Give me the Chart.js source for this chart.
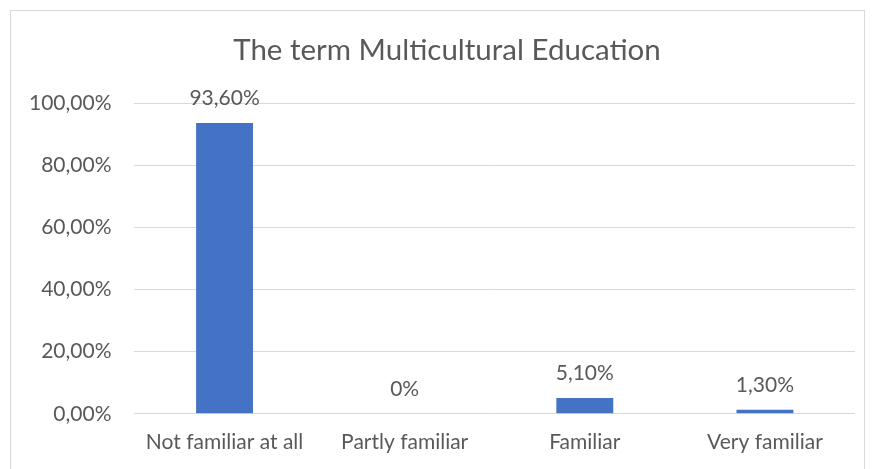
<!DOCTYPE html>
<html>
<head>
<meta charset="utf-8">
<script src="https://cdn.jsdelivr.net/npm/chart.js@4/dist/chart.umd.min.js"></script>
<style>
  body { margin: 0; background: #fff; }
  #frame { position: absolute; left: 10px; top: 10px; width: 855px; height: 480px; border: 1px solid #d9d9d9; box-sizing: border-box; }
  canvas { position: absolute; left: 0; top: 0; }
</style>
</head>
<body>
<div id="frame"></div>
<canvas id="chart" width="873" height="469"></canvas>
<script>
// dados
const categories = ['Not familiar at all', 'Partly familiar', 'Familiar', 'Very familiar'];
const values = [93.6, 0, 5.1, 1.3];
const valueLabels = ['93,60%', '0%', '5,10%', '1,30%'];
const yTicks = [0, 20, 40, 60, 80, 100];
const chartTitle = 'The term Multicultural Education';

const TEXT = '#595959';
const FONT = 'Lato, "Liberation Sans", sans-serif';

// Título centrado na moldura (não na área do gráfico)
const frameTitle = {
    id: 'frameTitle',
    afterDraw(chart) {
        const ctx = chart.ctx;
        ctx.save();
        ctx.font = '29.5px ' + FONT;
        ctx.fillStyle = TEXT;
        ctx.textAlign = 'center';
        ctx.textBaseline = 'middle';
        ctx.fillText(chartTitle, 447, 50);
        ctx.restore();
    }
};

// Rótulos de dados acima de cada barra
const barLabels = {
    id: 'barLabels',
    afterDatasetsDraw(chart) {
        const ctx = chart.ctx;
        const meta = chart.getDatasetMeta(0);
        ctx.save();
        ctx.font = '21px ' + FONT;
        ctx.fillStyle = TEXT;
        ctx.textAlign = 'center';
        ctx.textBaseline = 'middle';
        meta.data.forEach((bar, i) => {
            ctx.fillText(valueLabels[i], bar.x, bar.y - 25);
        });
        ctx.restore();
    }
};

new Chart(document.getElementById('chart'), {
    type: 'bar',
    data: {
        labels: categories,
        datasets: [{
            data: values,
            backgroundColor: '#4472C4',
            barPercentage: 0.316,
            categoryPercentage: 1,
        }]
    },
    options: {
        responsive: false,
        animation: false,
        layout: { padding: { top: 103, left: 6, right: 18, bottom: 6 } },
        plugins: {
            legend: { display: false },
            tooltip: { enabled: false },
            title: { display: false }
        },
        scales: {
            x: {
                grid: { display: false },
                border: { display: false },
                ticks: { color: TEXT, font: { family: FONT, size: 21 }, padding: 8, maxRotation: 0 }
            },
            y: {
                min: 0,
                max: 100,
                afterBuildTicks: (axis) => { axis.ticks = yTicks.map(v => ({ value: v })); },
                grid: { color: '#d9d9d9', drawTicks: false },
                border: { display: false },
                ticks: {
                    color: TEXT,
                    font: { family: FONT, size: 21 },
                    padding: 23,
                    callback: (v) => v.toFixed(2).replace('.', ',') + '%'
                }
            }
        }
    },
    plugins: [barLabels, frameTitle]
});
</script>
</body>
</html>
